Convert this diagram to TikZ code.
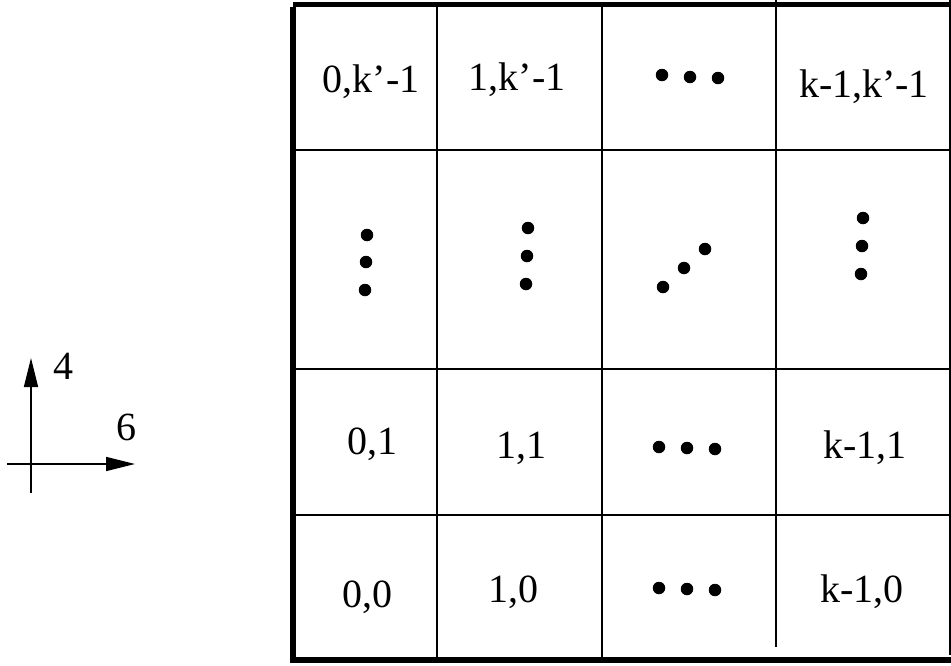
\documentclass[tikz,border=0pt]{standalone}
\usepackage{fontspec}
\setmainfont{Liberation Serif}
\usetikzlibrary{arrows.meta}
\begin{document}
\begin{tikzpicture}[x=1pt,y=-1pt,
  thinline/.style={line width=2pt},
  thickline/.style={line width=5.5pt},
  lbl/.style={anchor=base,inner sep=0pt,font=\fontsize{40}{44}\selectfont},
  axlbl/.style={anchor=base,inner sep=0pt,font=\fontsize{40}{44}\selectfont},
  dotnode/.style={circle,fill=black,inner sep=0pt,minimum size=12.5pt},
  axarrow/.style={line width=1.6pt,-{Triangle[length=29pt,width=14pt]}}]
\useasboundingbox (0,0) rectangle (951,665);
% grid lines
\draw[thinline] (437,7) -- (437,657);
\draw[thinline] (602,7) -- (602,657);
\draw[thinline] (776,0) -- (776,647);
\draw[thinline] (950,0) -- (950,655);
\draw[thinline] (296,150) -- (950,150);
\draw[thinline] (296,369) -- (950,369);
\draw[thinline] (296,515) -- (950,515);
% thick borders
\draw[thickline] (293,4.5) -- (951,4.5);
\draw[thickline] (293,7) -- (293,663);
\draw[thickline] (290,660) -- (951,660);
% labels
\node[lbl] (c0k) at (371,92) {0,k’-1};
\node[lbl] (c1k) at (517,90) {1,k’-1};
\node[lbl] (ckk) at (864,97) {k-1,k’-1};
\node[lbl] (c01) at (372,454) {0,1};
\node[lbl] (c11) at (521,458) {1,1};
\node[lbl] (ck1) at (865,458) {k-1,1};
\node[lbl] (c00) at (367,607) {0,0};
\node[lbl] (c10) at (513,602) {1,0};
\node[lbl] (ck0) at (862,602) {k-1,0};
% horizontal ellipses
\node[dotnode] (ta) at (662,75) {};
\node[dotnode] (tb) at (690,77) {};
\node[dotnode] (tc) at (718,78) {};
\node[dotnode] (ma) at (659,447) {};
\node[dotnode] (mb) at (687,448) {};
\node[dotnode] (mc) at (715,449) {};
\node[dotnode] (ba) at (659,588) {};
\node[dotnode] (bb) at (687,589) {};
\node[dotnode] (bc) at (715,590) {};
% vertical ellipses
\node[dotnode] (va1) at (367,235) {};
\node[dotnode] (va2) at (366,262) {};
\node[dotnode] (va3) at (365,290) {};
\node[dotnode] (vb1) at (528,228) {};
\node[dotnode] (vb2) at (527,256) {};
\node[dotnode] (vb3) at (526,284) {};
\node[dotnode] (vd1) at (863,218) {};
\node[dotnode] (vd2) at (862,246) {};
\node[dotnode] (vd3) at (861,274) {};
% diagonal ellipsis
\node[dotnode] (dg1) at (663,287) {};
\node[dotnode] (dg2) at (684,268) {};
\node[dotnode] (dg3) at (705,249) {};
% axes
\coordinate (o) at (31,464);
\coordinate (ybot) at (31,493);
\coordinate (ytip) at (31,358);
\coordinate (xleft) at (7,464);
\coordinate (xtip) at (135,464);
\draw[line width=1.6pt] (o) -- (ybot);
\draw[line width=1.6pt] (xleft) -- (o);
\draw[axarrow] (o) -- (ytip);
\draw[axarrow] (o) -- (xtip);
\node[axlbl] (l4) at (63,379) {4};
\node[axlbl] (l6) at (126,440) {6};
\end{tikzpicture}
\end{document}
